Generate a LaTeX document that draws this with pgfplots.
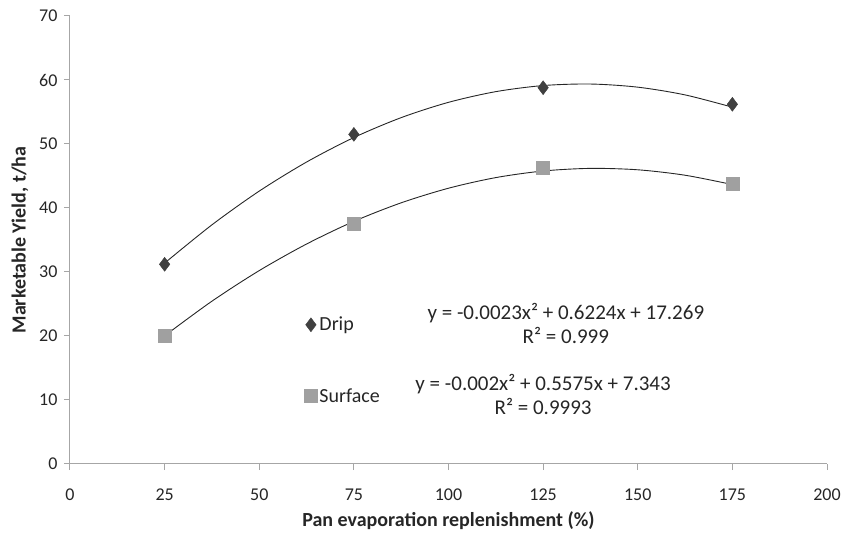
\documentclass[border=0pt]{standalone}
\usepackage{pgfplots}
\pgfplotsset{compat=1.18}
\usepackage{fontspec}
\setmainfont{Carlito}
\definecolor{axisgray}{HTML}{A6A6A6}
\definecolor{dripc}{HTML}{404040}
\definecolor{surfc}{HTML}{A0A0A0}
\definecolor{txt}{HTML}{262626}
\begin{document}
\begin{tikzpicture}
\begin{axis}[
  scale only axis, width=757pt, height=448pt,
  xmin=0, xmax=200, ymin=0, ymax=70,
  xtick={0,25,...,200}, ytick={0,10,...,70},
  axis lines=left, axis line style={axisgray, line width=1pt, -},
  tick style={axisgray, line width=1pt}, tick align=outside, major tick length=6pt,
  x tick label style={yshift=-15pt},
  y tick label style={xshift=-3pt},
  /pgf/number format/assume math mode=true,
  ticklabel style={font=\fontsize{18}{20}\selectfont, text=txt},
  xlabel={\textbf{Pan evaporation replenishment (\%)}},
  ylabel={\textbf{Marketable Yield, t/ha}},
  label style={font=\fontsize{20}{22}\selectfont, text=txt},
  xlabel style={yshift=-4pt},
  ylabel style={yshift=4pt},
  clip=false,
  legend style={at={(axis cs:61.1,23.6)}, anchor=north west, draw=none, fill=none,
    font=\fontsize{20}{22}\selectfont, text=txt, row sep=52pt},
  legend cell align=left,
]
\addplot[only marks, mark=diamond*, mark size=7pt, color=dripc] coordinates {
 (25,31.2) (75,51.5) (125,58.8) (175,56.2)};
\addlegendentry{Drip}
\addplot[only marks, mark=square*, mark size=6.5pt, color=surfc] coordinates {
 (25,20.0) (75,37.5) (125,46.3) (175,43.8)};
\addlegendentry{Surface}
\addplot[black!85, line width=0.9pt, smooth, forget plot] coordinates {
 (25,31.39) (37.5,37.37) (50,42.64) (62.5,47.18) (75,51.01) (87.5,54.12) (100,56.51)
 (112.5,58.18) (125,59.13) (137.5,59.37) (150,58.88) (162.5,57.67) (175,55.75)};
\addplot[black!85, line width=0.9pt, smooth, forget plot] coordinates {
 (25,20.03) (37.5,25.44) (50,30.22) (62.5,34.37) (75,37.91) (87.5,40.81) (100,43.09)
 (112.5,44.75) (125,45.78) (137.5,46.19) (150,45.97) (162.5,45.12) (175,43.66)};
\node[align=center, font=\fontsize{21}{24}\selectfont, text=txt] at (axis cs:131,21.9)
  {y = -0.0023x² + 0.6224x + 17.269\\R² = 0.999};
\node[align=center, font=\fontsize{21}{24}\selectfont, text=txt] at (axis cs:125,10.8)
  {y = -0.002x² + 0.5575x + 7.343\\R² = 0.9993};
\coordinate (sw) at (axis cs:0,0);
\coordinate (ne) at (axis cs:200,70);
\end{axis}
\pgfresetboundingbox
\path ([shift={(-70pt,-71pt)}]sw) rectangle ([shift={(24pt,16pt)}]ne);
\end{tikzpicture}
\end{document}
